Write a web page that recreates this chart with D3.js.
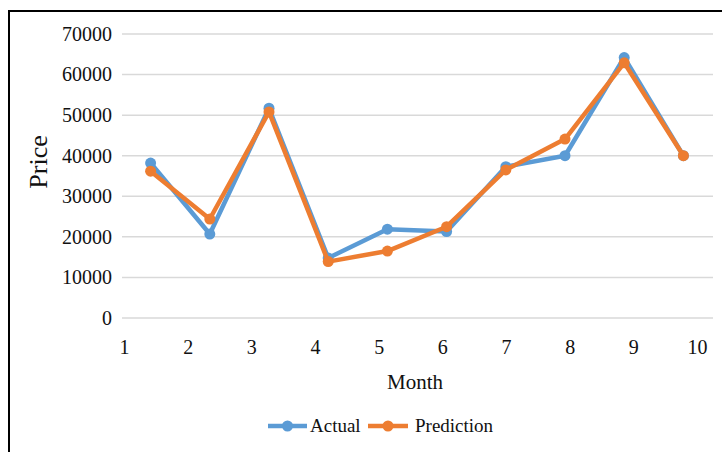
<!DOCTYPE html>
<html><head><meta charset="utf-8">
<script src="https://cdn.jsdelivr.net/npm/d3@7"></script>
<style>body{margin:0;background:#fff}svg{display:block}text{font-family:"Liberation Serif","Times New Roman",serif;fill:#111}</style>
</head><body><svg id="c" width="722" height="452"></svg>
<script>
const months = ["1","2","3","4","5","6","7","8","9","10"];
const actual = [38200, 20700, 51700, 14800, 21900, 21300, 37300, 40000, 64200, 40000];
const prediction = [36200, 24400, 50800, 13900, 16500, 22500, 36500, 44100, 62900, 40000];
const yTicks = [0, 10000, 20000, 30000, 40000, 50000, 60000, 70000];
const seriesNames = ["Actual", "Prediction"];
const colors = ["#5B9BD5", "#ED7D31"];

const svg = d3.select("#c");
svg.append("rect").attr("x", 9).attr("y", 11).attr("width", 740).attr("height", 470)
  .attr("fill", "none").attr("stroke", "#000").attr("stroke-width", 2);

const x = d3.scalePoint().domain(months).range([121, 713]).padding(0.5);
const xl = d3.scalePoint().domain(months).range([124, 697]);
const y = d3.scaleLinear().domain([0, 70000]).range([318, 34]);

// grid
svg.append("g").selectAll("line").data(yTicks).join("line")
  .attr("x1", 122).attr("x2", 713).attr("y1", d => y(d)).attr("y2", d => y(d))
  .attr("stroke", "#d9d9d9").attr("stroke-width", 1.5);

// y axis
const ya = svg.append("g").attr("transform", "translate(122,0)")
  .call(d3.axisLeft(y).tickValues(yTicks).tickFormat(d3.format("d")).tickSize(0).tickPadding(10));
ya.select(".domain").remove();
ya.selectAll("text").style("font-size", "20px").attr("fill", "#111")
  .style("font-family", '"Liberation Serif",serif');

// x axis labels
const xa = svg.append("g").attr("transform", "translate(0,330)")
  .call(d3.axisBottom(xl).tickSize(0).tickPadding(10));
xa.select(".domain").remove();
xa.selectAll("text").style("font-size", "20px").attr("fill", "#111")
  .style("font-family", '"Liberation Serif",serif');

svg.append("text").attr("x", 415).attr("y", 389).attr("text-anchor", "middle")
  .style("font-size", "21px").text("Month");
svg.append("text").attr("transform", "translate(47,162) rotate(-90)").attr("text-anchor", "middle")
  .style("font-size", "26px").text("Price");

const data = [actual, prediction];
const line = d3.line().x((d, i) => x(months[i])).y(d => y(d));
data.forEach((s, k) => {
  svg.append("path").datum(s).attr("d", line).attr("fill", "none")
    .attr("stroke", colors[k]).attr("stroke-width", 4.5).attr("stroke-linejoin", "round");
  svg.append("g").selectAll("circle").data(s).join("circle")
    .attr("cx", (d, i) => x(months[i])).attr("cy", d => y(d)).attr("r", 5.5).attr("fill", colors[k]);
});

// legend
const lg = [{x0: 268, x1: 307, tx: 310}, {x0: 368, x1: 408, tx: 415}];
seriesNames.forEach((n, k) => {
  const g = svg.append("g");
  g.append("line").attr("x1", lg[k].x0).attr("x2", lg[k].x1).attr("y1", 426).attr("y2", 426)
    .attr("stroke", colors[k]).attr("stroke-width", 4.5);
  g.append("circle").attr("cx", (lg[k].x0 + lg[k].x1) / 2).attr("cy", 426).attr("r", 5.5).attr("fill", colors[k]);
  g.append("text").attr("x", lg[k].tx).attr("y", 432).style("font-size", "19px").text(n);
});
</script></body></html>
